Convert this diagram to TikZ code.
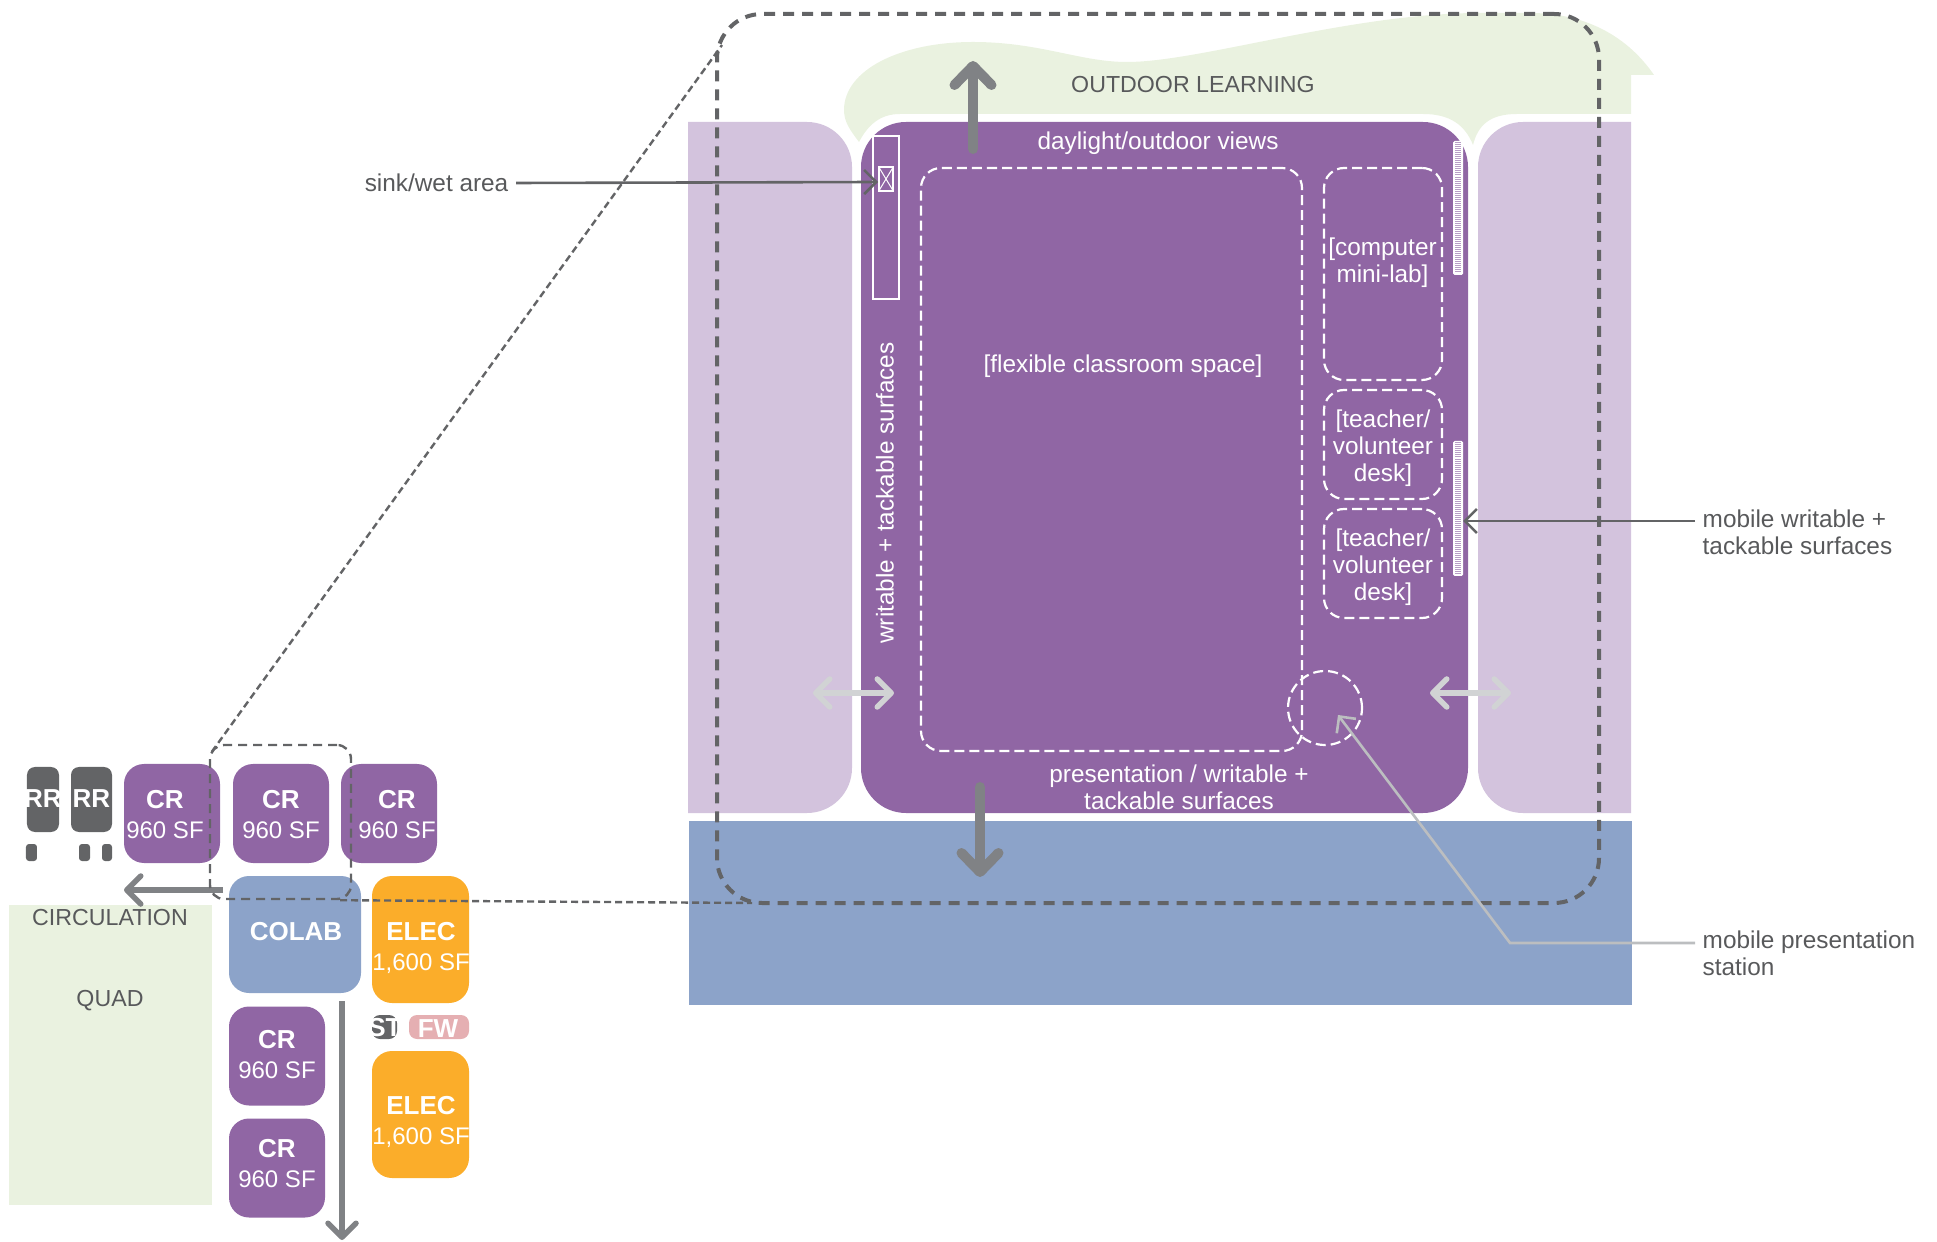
\documentclass[tikz,border=0pt]{standalone}
\usepackage{fontspec}
\setmainfont{Liberation Sans}
\usetikzlibrary{arrows.meta}

\definecolor{roompurple}{HTML}{9066A4}
\definecolor{softpurple}{HTML}{D3C3DD}
\definecolor{outdoorgreen}{HTML}{EAF2E0}
\definecolor{colabblue}{HTML}{8CA3C9}
\definecolor{elecorange}{HTML}{FBAD2A}
\definecolor{fwpink}{HTML}{E5AFB2}
\definecolor{darkgrey}{HTML}{636466}
\definecolor{midgrey}{HTML}{808285}
\definecolor{palegrey}{HTML}{D1D3D4}
\definecolor{leadgrey}{HTML}{BCBEC0}
\definecolor{textgrey}{HTML}{58595B}

\newcommand{\smalltext}{\fontsize{6.83}{8.54}\selectfont}
\newcommand{\plantext}{\fontsize{6.93}{7.68}\selectfont}
\newcommand{\roomname}[1]{{\fontsize{7.4}{8.54}\selectfont\bfseries #1}}

\tikzset{
	box/.style = {rounded corners = 0.2cm, inner sep = 0, text = white, align = center},
	crbox/.style = {box, fill = roompurple, minimum width = 0.96cm, minimum height = 0.99cm},
	elecbox/.style = {box, fill = elecorange, minimum width = 0.97cm, minimum height = 1.27cm},
	rrbox/.style = {box, rounded corners = 0.08cm, fill = darkgrey, font = \smalltext},
	roomtext/.style = {inner sep = 0, text = white, align = center, font = \smalltext},
	plantext/.style = {inner sep = 0, text = white, align = center, font = \plantext},
	greytext/.style = {inner xsep = 0.07cm, inner ysep = 0, text = textgrey, align = left, font = \plantext},
	capstext/.style = {greytext, font = \fontsize{6.6}{7.68}\selectfont},
	deskframe/.style = {draw = white, line width = 0.022cm, dash pattern = on 0.10cm off 0.05cm, rounded corners = 0.2cm, inner sep = 0, text = white, align = center, font = \plantext},
	bigarrow/.style = {draw = midgrey, line width = 0.1cm, line cap = round, -{Straight Barb[round, length = 0.19cm, width = 0.37cm]}},
	midarrow/.style = {draw = midgrey, line width = 0.055cm, -{Straight Barb[round, length = 0.14cm, width = 0.28cm]}},
	swaparrow/.style = {draw = palegrey, line width = 0.055cm, {Straight Barb[round, length = 0.14cm, width = 0.28cm]}-{Straight Barb[round, length = 0.14cm, width = 0.28cm]}},
	leadline/.style = {line width = 0.026cm, -{Straight Barb[length = 0.12cm, width = 0.24cm]}},
	linkline/.style = {draw = darkgrey, line width = 0.024cm, dash pattern = on 0.07cm off 0.04cm}
}

\begin{document}
\begin{tikzpicture}

\useasboundingbox (0, 0) rectangle (19.37, -12.42);

% key plan
\begin{scope}[xshift = 0cm, yshift = 0cm]
\fill[outdoorgreen] (0.09, -9.05) rectangle (2.12, -12.05);
\node[capstext] (circulationtext) at (1.10, -9.18) {CIRCULATION};
\node[capstext] (quadtext) at (1.10, -10.01) {QUAD};

\node[rrbox, minimum width = 0.32cm, minimum height = 0.65cm] (rrA) at (0.43, -7.995) {};
\node[rrbox, minimum width = 0.41cm, minimum height = 0.65cm] (rrB) at (0.915, -7.995) {};
\node[roomtext] (rrAtext) at (0.43, -7.985) {\roomname{RR}};
\node[roomtext] (rrBtext) at (0.915, -7.985) {\roomname{RR}};
\fill[darkgrey, rounded corners = 0.03cm] (0.26, -8.44) rectangle (0.37, -8.61);
\fill[darkgrey, rounded corners = 0.03cm] (0.79, -8.44) rectangle (0.90, -8.61);
\fill[darkgrey, rounded corners = 0.03cm] (1.02, -8.44) rectangle (1.12, -8.61);

\node[crbox] (crA) at (1.72, -8.135) {};
\node[crbox] (crB) at (2.81, -8.135) {};
\node[crbox] (crC) at (3.89, -8.135) {};
\node[crbox] (crD) at (2.77, -10.56) {};
\node[crbox] (crE) at (2.77, -11.68) {};
\node[roomtext] (crAtext) at (1.65, -8.145) {\roomname{CR}\\960 SF};
\node[roomtext] (crBtext) at (2.81, -8.145) {\roomname{CR}\\960 SF};
\node[roomtext] (crCtext) at (3.97, -8.145) {\roomname{CR}\\960 SF};
\node[roomtext] (crDtext) at (2.77, -10.55) {\roomname{CR}\\960 SF};
\node[roomtext] (crEtext) at (2.77, -11.635) {\roomname{CR}\\960 SF};

\node[box, fill = colabblue, minimum width = 1.32cm, minimum height = 1.17cm] (colab) at (2.95, -9.345) {};
\node[roomtext] (colabtext) at (2.96, -9.32) {\roomname{COLAB}};

\node[elecbox] (elecA) at (4.205, -9.395) {};
\node[elecbox] (elecB) at (4.205, -11.145) {};
\node[roomtext] (elecAtext) at (4.21, -9.48) {\roomname{ELEC}\\1,600 SF};
\node[roomtext] (elecBtext) at (4.21, -11.22) {\roomname{ELEC}\\1,600 SF};

\node[rrbox, minimum width = 0.25cm, minimum height = 0.24cm] (stbox) at (3.845, -10.27) {};
\node[roomtext] (sttext) at (3.85, -10.275) {\roomname{ST}};
\node[rrbox, fill = fwpink, minimum width = 0.60cm, minimum height = 0.24cm] (fwbox) at (4.39, -10.27) {};
\node[roomtext] (fwtext) at (4.38, -10.285) {\roomname{FW}};

\draw[midarrow] (2.23, -8.90) -- (1.24, -8.90);
\draw[midarrow] (3.42, -10.01) -- (3.42, -12.40);

\node[draw = darkgrey, line width = 0.024cm, dash pattern = on 0.09cm off 0.06cm, rounded corners = 0.14cm, minimum width = 1.41cm, minimum height = 1.54cm, inner sep = 0] (smallframe) at (2.805, -8.22) {};
\end{scope}


% enlarged classroom
\begin{scope}[xshift = 0cm, yshift = 0cm]
\fill[outdoorgreen] (8.59, -1.42) .. controls (8.50, -1.30) and (8.44, -1.22) .. (8.44, -1.10)
	.. controls (8.44, -0.70) and (9.00, -0.42) .. (9.73, -0.42)
	.. controls (10.40, -0.42) and (10.80, -0.62) .. (11.27, -0.62)
	.. controls (12.00, -0.62) and (13.50, -0.13) .. (14.80, -0.13)
	-- (15.30, -0.13) .. controls (15.90, -0.13) and (16.30, -0.40) .. (16.54, -0.75)
	-- (16.31, -0.75) -- (16.31, -1.14) -- (15.17, -1.14)
	.. controls (14.90, -1.14) and (14.78, -1.25) .. (14.73, -1.45)
	.. controls (14.65, -1.25) and (14.50, -1.14) .. (14.23, -1.14)
	-- (9.00, -1.14) .. controls (8.80, -1.14) and (8.68, -1.25) .. (8.59, -1.42) -- cycle;

\fill[softpurple] (6.88, -1.22) [rounded corners = 0.45cm] -- (8.52, -1.22) -- (8.52, -8.13) [sharp corners] -- (6.88, -8.13) -- cycle;
\fill[softpurple] (16.31, -1.22) [rounded corners = 0.45cm] -- (14.78, -1.22) -- (14.78, -8.13) [sharp corners] -- (16.31, -8.13) -- cycle;
\fill[roompurple, rounded corners = 0.45cm] (8.61, -1.22) rectangle (14.68, -8.13);
\fill[colabblue] (6.89, -8.21) rectangle (16.32, -10.05);

\node[capstext] (outdoortext) at (11.93, -0.845) {OUTDOOR LEARNING};
\node[plantext] (daylighttext) at (11.58, -1.43) {daylight/outdoor views};

% sink
\draw[white, line width = 0.022cm] (8.73, -1.36) rectangle (8.99, -2.99);
\node[draw = white, line width = 0.012cm, minimum width = 0.14cm, minimum height = 0.24cm, inner sep = 0] (sinkbox) at (8.86, -1.79) {};
\draw[white, line width = 0.01cm] (sinkbox.north west) -- (sinkbox.south east);
\draw[white, line width = 0.01cm] (sinkbox.north east) -- (sinkbox.south west);

% dashed zones
\node[deskframe, minimum width = 3.81cm, minimum height = 5.83cm] (flexframe) at (11.115, -4.595) {};
\node[plantext] (flextext) at (11.23, -3.665) {[flexible classroom space]};
\node[deskframe, minimum width = 1.18cm, minimum height = 2.12cm] (labframe) at (13.83, -2.74) {};
\node[plantext] (labtext) at (13.825, -2.63) {[computer\\mini-lab]};
\node[deskframe, minimum width = 1.18cm, minimum height = 1.09cm] (deskA) at (13.83, -4.445) {};
\node[deskframe, minimum width = 1.18cm, minimum height = 1.09cm] (deskB) at (13.83, -5.635) {};
\node[plantext] (deskAtext) at (13.83, -4.48) {[teacher/\\volunteer\\desk]};
\node[plantext] (deskBtext) at (13.83, -5.67) {[teacher/\\volunteer\\desk]};
\node[deskframe, circle, minimum size = 0.74cm] (stationcircle) at (13.25, -7.08) {};

% sliding boards
\foreach \top/\bottom/\rows in {1.41/2.75/65, 4.41/5.76/66} {
	\fill[white, rounded corners = 0.015cm] (14.53, -\top) rectangle (14.63, -\bottom);
	\foreach \i in {1,...,\rows} {
		\draw[softpurple!60!roompurple, line width = 0.01cm] (14.55, {-\top-\i*0.02}) -- (14.61, {-\top-\i*0.02});
	}
}

\node[plantext, rotate = 90] (writabletext) at (8.85, -4.93) {writable + tackable surfaces};
\node[plantext] (presenttext) at (11.79, -7.87) {presentation / writable +\\tackable surfaces};

\draw[bigarrow] (9.73, -1.49) -- (9.73, -0.61);
\draw[bigarrow] (9.80, -7.87) -- (9.80, -8.77);
\draw[swaparrow] (8.13, -6.93) -- (8.94, -6.93);
\draw[swaparrow] (14.30, -6.93) -- (15.11, -6.93);

\node[draw = darkgrey, line width = 0.04cm, dash pattern = on 0.11cm off 0.08cm, rounded corners = 0.45cm, minimum width = 8.82cm, minimum height = 8.89cm, inner sep = 0] (bigframe) at (11.58, -4.585) {};
\end{scope}


% links between the two frames
\coordinate (linktop) at (7.22, -0.45);
\coordinate (linkbottom) at (7.52, -9.03);
\draw[linkline] (smallframe.north west) ++(0.03, -0.08) -- (linktop);
\draw[linkline] (smallframe.south east) ++(-0.12, 0) -- (linkbottom);


% callouts
\node[greytext, anchor = east] (sinklabel) at (5.16, -1.83) {sink/wet area};
\node[greytext, anchor = west] (mobilelabel) at (16.95, -5.32) {mobile writable +\\tackable surfaces};
\node[greytext, anchor = west] (stationlabel) at (16.95, -9.53) {mobile presentation\\station};

\coordinate (sinkpoint) at (8.78, -1.82);
\coordinate (boardpoint) at (14.63, -5.21);
\coordinate (stationpoint) at (13.38, -7.15);
\coordinate (stationbend) at (15.10, -9.43);

\draw[leadline, draw = darkgrey] (sinklabel.east) -- (sinkpoint);
\draw[leadline, draw = darkgrey] ([yshift = 0.11cm]mobilelabel.west) -- (boardpoint);
\draw[leadline, draw = leadgrey] ([yshift = 0.10cm]stationlabel.west) -- (stationbend) -- (stationpoint);

\end{tikzpicture}
\end{document}
